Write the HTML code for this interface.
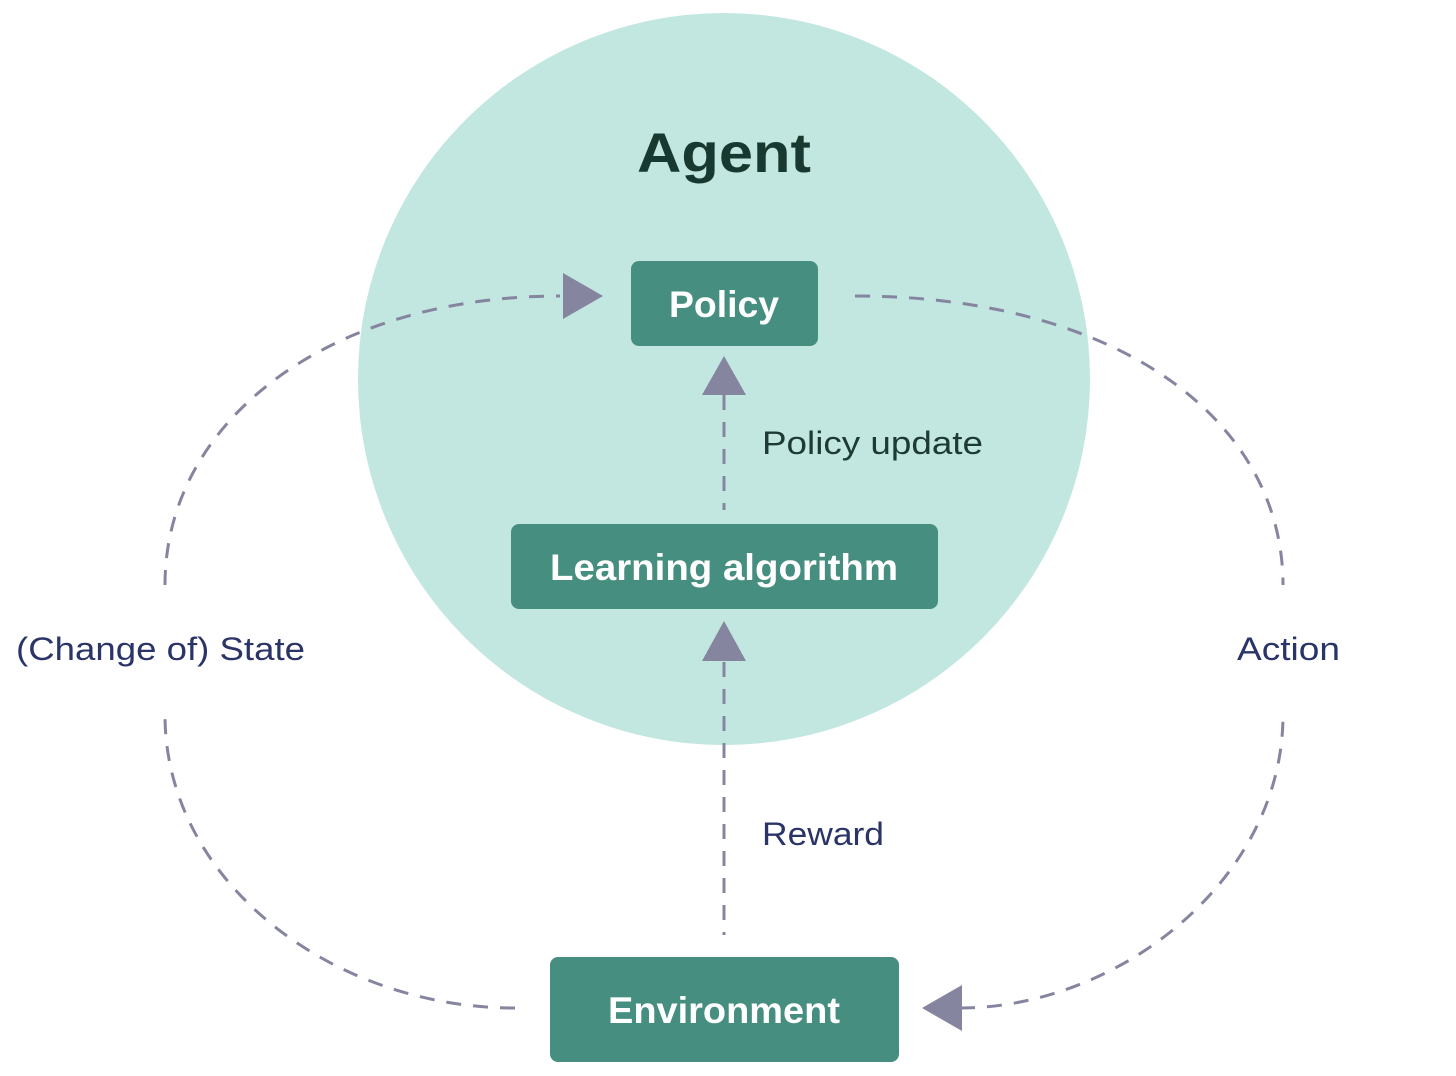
<!DOCTYPE html>
<html><head><meta charset="utf-8"><style>
html,body{margin:0;padding:0;background:#fff;}
svg{display:block;}
</style></head><body>
<svg width="1456" height="1076" viewBox="0 0 1456 1076" xmlns="http://www.w3.org/2000/svg" font-family="Liberation Sans, sans-serif">
<circle cx="724" cy="379" r="366" fill="#c2e6e0"/>
<g fill="none" stroke="#8585a0" stroke-width="3" stroke-dasharray="15 12">
<path d="M165,585 C165,420 330,296 560,296"/>
<path d="M515,1008 C330,1008 165,880 165,715"/>
<path d="M855,296 C1118,296 1283,420 1283,585"/>
<path d="M960,1008 C1118,1008 1283,880 1283,715"/>
<path d="M724,395 L724,510"/>
<path d="M724,662 L724,935"/>
</g>
<g fill="#8585a0">
<polygon points="563,273 563,319 603,296"/>
<polygon points="922,1008 962,985 962,1031"/>
<polygon points="702,395 746,395 724,356"/>
<polygon points="702,661 746,661 724,621"/>
</g>
<rect x="631" y="261" width="187" height="85" rx="8" fill="#468f80"/>
<rect x="511" y="524" width="427" height="85" rx="8" fill="#468f80"/>
<rect x="550" y="957" width="349" height="105" rx="8" fill="#468f80"/>
<text x="724" y="172" text-anchor="middle" font-size="56" font-weight="bold" fill="#17392f" textLength="174" lengthAdjust="spacingAndGlyphs">Agent</text>
<text x="724" y="317" text-anchor="middle" font-size="37" font-weight="bold" fill="#fff" textLength="110" lengthAdjust="spacingAndGlyphs">Policy</text>
<text x="724" y="580" text-anchor="middle" font-size="37" font-weight="bold" fill="#fff" textLength="348" lengthAdjust="spacingAndGlyphs">Learning algorithm</text>
<text x="724" y="1023" text-anchor="middle" font-size="37" font-weight="bold" fill="#fff" textLength="232" lengthAdjust="spacingAndGlyphs">Environment</text>
<text x="762" y="454" font-size="32" fill="#1d3a33" textLength="221" lengthAdjust="spacingAndGlyphs">Policy update</text>
<text x="762" y="845" font-size="32" fill="#2b3468" textLength="122" lengthAdjust="spacingAndGlyphs">Reward</text>
<text x="16" y="660" font-size="32" fill="#2b3468" textLength="289" lengthAdjust="spacingAndGlyphs">(Change of) State</text>
<text x="1237" y="660" font-size="32" fill="#2b3468" textLength="103" lengthAdjust="spacingAndGlyphs">Action</text>
</svg>
</body></html>
